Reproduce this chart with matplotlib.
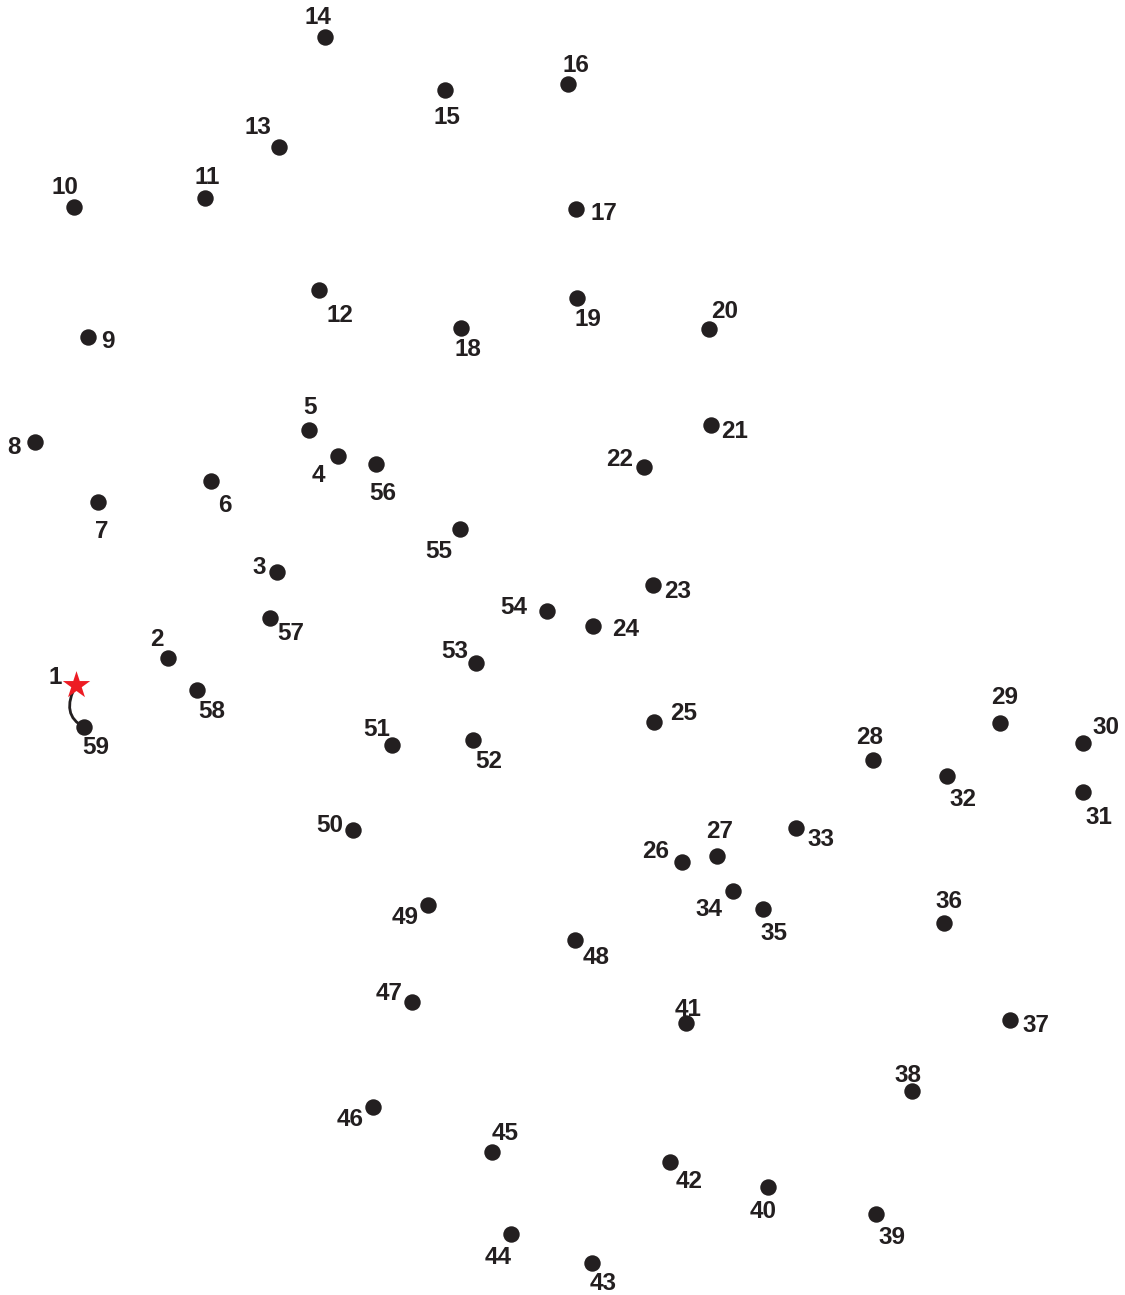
import matplotlib
matplotlib.use("Agg")
import matplotlib.pyplot as plt
from matplotlib.path import Path
from matplotlib.patches import PathPatch

# dot positions (image pixel coords), numbered 1..59
dot_x = [76, 168, 277, 338, 309, 211, 98, 35, 88, 74,
         205, 319, 279, 325, 445, 568, 576, 461, 577, 709,
         711, 644, 653, 593, 654, 682, 717, 873, 1000, 1083,
         1083, 947, 796, 733, 763, 944, 1010, 912, 876, 768,
         686, 670, 592, 511, 492, 373, 412, 575, 428, 353,
         392, 473, 476, 547, 460, 376, 270, 197, 84]
dot_y = [685, 658, 572, 456, 430, 481, 502, 442, 337, 207,
         198, 290, 147, 37, 90, 84, 209, 328, 298, 329,
         425, 467, 585, 626, 722, 862, 856, 760, 723, 743,
         792, 776, 828, 891, 909, 923, 1020, 1091, 1214, 1187,
         1023, 1162, 1263, 1234, 1152, 1107, 1002, 940, 905, 830,
         745, 740, 663, 611, 529, 464, 618, 690, 727]
label_x = [55, 157, 259, 318, 310, 225, 102, 14, 108, 65,
           207, 340, 258, 318, 447, 576, 604, 468, 588, 725,
           735, 620, 678, 626, 684, 656, 720, 870, 1005, 1106,
           1099, 963, 821, 709, 774, 949, 1036, 908, 892, 763,
           688, 689, 603, 498, 505, 350, 389, 596, 405, 330,
           377, 489, 455, 514, 439, 383, 291, 212, 96]
label_y = [675, 637, 565, 473, 406, 503, 530, 446, 340, 185,
           176, 314, 126, 15, 115, 63, 212, 348, 318, 309,
           429, 457, 589, 628, 712, 850, 830, 735, 695, 725,
           815, 797, 838, 908, 931, 899, 1023, 1074, 1236, 1209,
           1007, 1179, 1282, 1256, 1131, 1118, 992, 955, 916, 824,
           728, 759, 650, 605, 550, 491, 631, 709, 745]
labels = [str(i) for i in range(1, 60)]

W, H = 1125, 1295
fig = plt.figure(figsize=(W / 100, H / 100), dpi=100)
ax = fig.add_axes([0, 0, 1, 1])
ax.set_xlim(0, W)
ax.set_ylim(H, 0)
ax.axis("off")

dark = "#231f20"
# connecting curve from the start star to the last dot
verts = [(dot_x[0], dot_y[0]), (dot_x[0] - 16, dot_y[0] + 30), (dot_x[-1], dot_y[-1])]
path = Path(verts, [Path.MOVETO, Path.CURVE3, Path.CURVE3])
ax.add_patch(PathPatch(path, fill=False, edgecolor=dark, lw=2.0, zorder=1))

ax.scatter(dot_x[1:], dot_y[1:], s=140, color=dark, zorder=2, linewidths=0)
ax.scatter([dot_x[0]], [dot_y[0]], s=430, marker="*", color="#ed1c24", zorder=3, linewidths=0)

for lx, ly, t in zip(label_x, label_y, labels):
    ax.text(lx, ly + 2, t, ha="center", va="center", fontsize=17.5, fontweight="bold",
            family="Liberation Sans", color=dark)

fig.savefig("out.png", dpi=100)
